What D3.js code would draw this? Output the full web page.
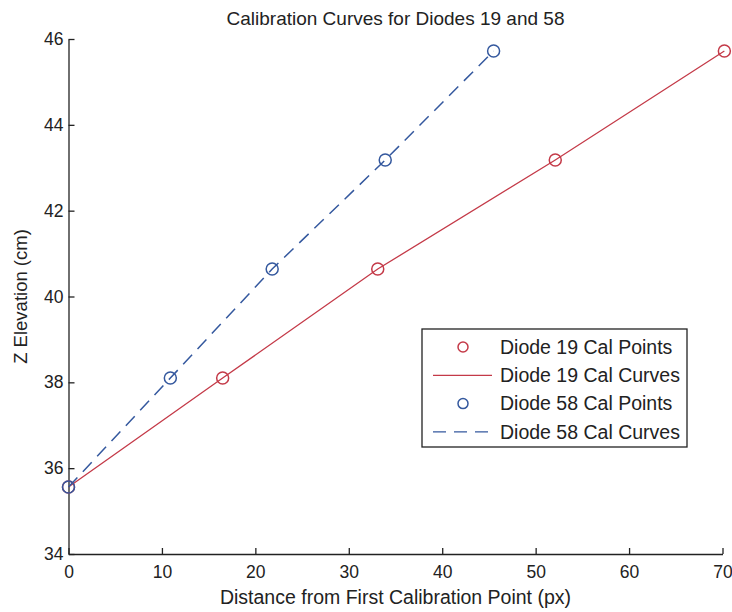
<!DOCTYPE html>
<html>
<head>
<meta charset="utf-8">
<script src="https://cdn.jsdelivr.net/npm/d3@7"></script>
<style>
  body { margin: 0; background: #fff; }
  svg { display: block; font-family: "Liberation Sans", Arial, sans-serif; }
</style>
</head>
<body>
<svg id="chart" width="732" height="612"></svg>
<script>
// calibration points, one inch steps in elevation
const zElevation = [35.56, 38.10, 40.64, 43.18, 45.72];
const diode19Dist = [0, 16.5, 33.1, 52.1, 70.2];
const diode58Dist = [0, 10.9, 21.8, 33.9, 45.5];
const xTicks = [0, 10, 20, 30, 40, 50, 60, 70];
const yTicks = [34, 36, 38, 40, 42, 44, 46];
const legendLabels = [
  "Diode 19 Cal Points",
  "Diode 19 Cal Curves",
  "Diode 58 Cal Points",
  "Diode 58 Cal Curves",
];

const red = "#c43a48";
const blue = "#34589e";

const svg = d3.select("#chart");
const margin = { top: 39, left: 68.5 };

const x = d3.scaleLinear().domain([0, 70]).range([margin.left, margin.left + 654]);
const y = d3.scaleLinear().domain([34, 46]).range([554, margin.top]);

const g = svg.append("g");

// axes (ticks pointing inward, no box)
const xAxis = d3.axisBottom(x).tickValues(xTicks).tickSizeInner(-6).tickSizeOuter(0).tickPadding(12);
const yAxis = d3.axisLeft(y).tickValues(yTicks).tickSizeInner(-6).tickSizeOuter(0).tickPadding(5);

g.append("g")
  .attr("transform", `translate(0,${y(34)})`)
  .call(xAxis)
  .call((a) => a.select(".domain").attr("stroke", "#222").attr("stroke-width", 1.3))
  .call((a) => a.selectAll(".tick line").attr("stroke", "#222").attr("stroke-width", 1.3))
  .call((a) => a.selectAll("text").attr("font-size", 17.5).attr("fill", "#222").attr("font-family", null));

g.append("g")
  .attr("transform", `translate(${x(0)},0)`)
  .call(yAxis)
  .call((a) => a.select(".domain").attr("stroke", "#222").attr("stroke-width", 1.3))
  .call((a) => a.selectAll(".tick line").attr("stroke", "#222").attr("stroke-width", 1.3))
  .call((a) => a.selectAll("text").attr("font-size", 17.5).attr("fill", "#222").attr("font-family", null));

// curves
const line = d3.line().x((d) => x(d[0])).y((d) => y(d[1]));
const pts19 = diode19Dist.map((d, i) => [d, zElevation[i]]);
const pts58 = diode58Dist.map((d, i) => [d, zElevation[i]]);

g.append("path")
  .datum(pts19)
  .attr("fill", "none")
  .attr("stroke", red)
  .attr("stroke-width", 1.3)
  .attr("d", line);

g.append("path")
  .datum(pts58)
  .attr("fill", "none")
  .attr("stroke", blue)
  .attr("stroke-width", 1.5)
  .attr("stroke-dasharray", "13,8")
  .attr("d", line);

// points
g.append("g")
  .selectAll("circle")
  .data(pts19)
  .join("circle")
  .attr("cx", (d) => x(d[0]))
  .attr("cy", (d) => y(d[1]))
  .attr("r", 6)
  .attr("fill", "none")
  .attr("stroke", red)
  .attr("stroke-width", 1.5);

g.append("g")
  .selectAll("circle")
  .data(pts58)
  .join("circle")
  .attr("cx", (d) => x(d[0]))
  .attr("cy", (d) => y(d[1]))
  .attr("r", 6)
  .attr("fill", "none")
  .attr("stroke", blue)
  .attr("stroke-width", 1.5);

// title and labels
svg.append("text")
  .attr("x", (x(0) + x(70)) / 2)
  .attr("y", 25)
  .attr("text-anchor", "middle")
  .attr("font-size", 19)
  .attr("fill", "#222")
  .text("Calibration Curves for Diodes 19 and 58");

svg.append("text")
  .attr("x", (x(0) + x(70)) / 2)
  .attr("y", 604)
  .attr("text-anchor", "middle")
  .attr("font-size", 19.5)
  .attr("fill", "#222")
  .text("Distance from First Calibration Point (px)");

svg.append("text")
  .attr("transform", `translate(27,${(y(34) + y(46)) / 2}) rotate(-90)`)
  .attr("text-anchor", "middle")
  .attr("font-size", 18.5)
  .attr("fill", "#222")
  .text("Z Elevation (cm)");

// legend
const legend = svg.append("g").attr("transform", "translate(422,329)");
legend.append("rect")
  .attr("width", 265)
  .attr("height", 118)
  .attr("fill", "#fff")
  .attr("stroke", "#222")
  .attr("stroke-width", 1.3);

const rowY = (i) => 18 + i * 28.3;
const items = legend.selectAll(".item")
  .data(legendLabels)
  .join("g")
  .attr("class", "item")
  .attr("transform", (d, i) => `translate(0,${rowY(i)})`);

items.append("text")
  .attr("x", 78)
  .attr("dy", "0.35em")
  .attr("font-size", 19.5)
  .attr("fill", "#222")
  .text((d) => d);

items.each(function (d, i) {
  const it = d3.select(this);
  const color = i < 2 ? red : blue;
  if (i % 2 === 0) {
    it.append("circle")
      .attr("cx", 41)
      .attr("r", 5)
      .attr("fill", "none")
      .attr("stroke", color)
      .attr("stroke-width", 1.5);
  } else {
    it.append("line")
      .attr("x1", 11)
      .attr("x2", 70)
      .attr("stroke", color)
      .attr("stroke-width", 1.3)
      .attr("stroke-dasharray", i === 3 ? "13,8" : null);
  }
});
</script>
</body>
</html>
